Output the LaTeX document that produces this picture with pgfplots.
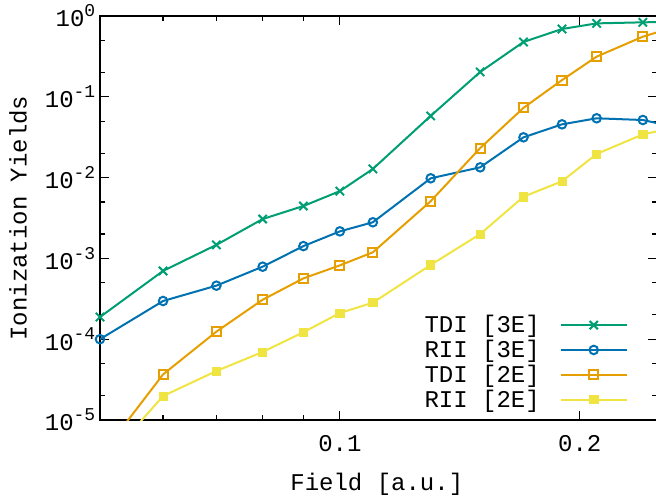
\documentclass[border=0pt]{standalone}
\usepackage{pgfplots}
\pgfplotsset{compat=1.18}
\usepackage{fontspec}
\setmainfont{Liberation Mono}

\definecolor{cgreen}{HTML}{009E73}
\definecolor{cblue}{HTML}{0072B2}
\definecolor{corange}{HTML}{E69F00}
\definecolor{cyellow}{HTML}{F0E442}

% gnuplot-like 10^n label in the text font
\newcommand{\dec}[1]{10\raisebox{0.42em}{\fontsize{13.5}{13.5}\selectfont #1}}

\begin{document}
\begin{tikzpicture}[font=\fontsize{18}{20}\selectfont]
\begin{axis}[
    scale only axis,
    width=417.75pt, height=303pt,
    xmode=log, ymode=log,
    xmin=0.05, xmax=0.25,
    ymin=1e-5, ymax=1,
    xtick={0.1,0.2}, xticklabels={0.1,0.2},
    minor xtick={0.06,0.07,0.08,0.09},
    ytick={1e-5,1e-4,1e-3,1e-2,1e-1,1},
    yticklabels={\dec{-5},\dec{-4},\dec{-3},\dec{-2},\dec{-1},\dec{0}},
    minor ytick={2e-5,5e-5,2e-4,5e-4,2e-3,5e-3,2e-2,5e-2,2e-1,5e-1},
    major tick length=6.5pt, minor tick length=3.5pt,
    tick style={black, line width=0.9pt},
    axis line style={line width=1pt},
    every tick label/.append style={font=\fontsize{18}{20}\selectfont},
    xticklabel style={yshift=-8pt},
    xlabel={Field [a.u.]},
    ylabel={Ionization Yields},
    xlabel style={at={(axis description cs:0.497,-0.158)}, anchor=center},
    ylabel style={at={(axis description cs:-0.147,0.5)}, anchor=center},
    legend plot pos=right,
    legend cell align=right,
    legend style={draw=none, fill=none, inner sep=0pt,
        at={(axis description cs:0.948,0.1426)}, anchor=east,
        row sep=4.1pt, column sep=15pt,
        nodes={inner sep=0pt}},
    legend image code/.code={%
        \draw[mark repeat=2,mark phase=2] plot coordinates {(0pt,0pt) (24.75pt,0pt) (49.5pt,0pt)};},
    every axis plot/.append style={line width=1.5pt},
]
\coordinate (sw) at (rel axis cs:0,0);

% TDI [3E]
\addplot[cgreen, mark=x, mark size=4.4pt, mark options={solid}] coordinates {
    (0.05,1.88e-4) (0.06,7.0e-4) (0.07,1.47e-3) (0.08,3.07e-3) (0.09,4.45e-3)
    (0.10,6.8e-3) (0.11,1.28e-2) (0.13,5.8e-2) (0.15,0.203) (0.17,0.477)
    (0.19,0.69) (0.21,0.81) (0.24,0.835) (0.27,0.85)
};
\addlegendentry{TDI [3E]}

% RII [3E]
\addplot[cblue, mark=o, mark size=3.2pt] coordinates {
    (0.05,1.0e-4) (0.06,2.97e-4) (0.07,4.6e-4) (0.08,7.9e-4) (0.09,1.42e-3)
    (0.10,2.16e-3) (0.11,2.8e-3) (0.13,9.8e-3) (0.15,1.34e-2) (0.17,3.15e-2)
    (0.19,4.56e-2) (0.21,5.42e-2) (0.24,5.16e-2) (0.27,4.0e-2)
};
\addlegendentry{RII [3E]}

% TDI [2E]
\addplot[corange, mark=square, mark size=3.4pt] coordinates {
    (0.05,3.5e-6) (0.06,3.67e-5) (0.07,1.24e-4) (0.08,3.08e-4) (0.09,5.66e-4)
    (0.10,8.2e-4) (0.11,1.19e-3) (0.13,5.1e-3) (0.15,2.32e-2) (0.17,7.3e-2)
    (0.19,0.161) (0.21,0.314) (0.24,0.555) (0.27,0.79)
};
\addlegendentry{TDI [2E]}

% RII [2E]
\addplot[cyellow, mark=square*, mark size=3.1pt, mark options={line width=0.5pt}] coordinates {
    (0.05,2.6e-6) (0.06,1.98e-5) (0.07,4.04e-5) (0.08,6.95e-5) (0.09,1.22e-4)
    (0.10,2.11e-4) (0.11,2.83e-4) (0.13,8.3e-4) (0.15,2.0e-3) (0.17,5.8e-3)
    (0.19,9.0e-3) (0.21,1.96e-2) (0.24,3.43e-2) (0.27,4.4e-2)
};
\addlegendentry{RII [2E]}
\end{axis}
\pgfresetboundingbox
\path[use as bounding box] (sw) ++(-75pt,-58.5pt) rectangle ++(492pt,373.5pt);
\end{tikzpicture}
\end{document}
